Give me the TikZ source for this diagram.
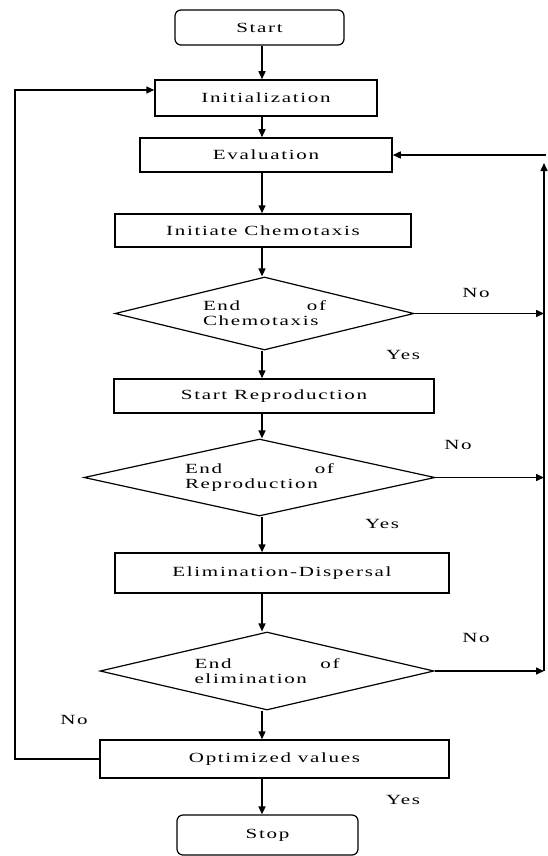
\documentclass[tikz,border=0pt]{standalone}
\usepackage{fontspec}
\setmainfont{Liberation Serif}[FakeStretch=1.5,LetterSpace=12]
\usetikzlibrary{arrows.meta,shapes.geometric}
\begin{document}
\begin{tikzpicture}[x=1pt,y=-1pt,
  every node/.style={font=\fontsize{14}{15}\selectfont},
  boxst/.style={draw,line width=1.5pt,inner sep=0pt,rectangle},
  termst/.style={draw,line width=1.2pt,inner sep=0pt,rounded corners=6pt},
  diam/.style={draw,line width=1.2pt,diamond,inner sep=0pt,aspect=4,align=left},
  arr/.style={line width=1.5pt,-{Triangle[length=8pt,width=7pt]}},
  lbl/.style={inner sep=0pt}]
\useasboundingbox (0,0) rectangle (548,856);
\fill[white] (0,0) rectangle (548,856);

\node[termst,minimum width=169pt,minimum height=35pt] (start) at (259.5,27.5) {Start};
\node[boxst,minimum width=222pt,minimum height=36pt] (init) at (266,98) {Initialization};
\node[boxst,minimum width=252pt,minimum height=34pt] (eval) at (266,155) {Evaluation};
\node[boxst,minimum width=296pt,minimum height=33pt] (chemo) at (263,230.5) {Initiate Chemotaxis};
\node[diam,minimum width=299pt,minimum height=73pt,text width=123pt] (d1) at (264.5,313.5)
  {\makebox[123pt][s]{End\hfill of}\\Chemotaxis};
\node[boxst,minimum width=320pt,minimum height=34pt] (repro) at (274,396) {Start Reproduction};
\node[diam,minimum width=351pt,minimum height=77pt,text width=149pt] (d2) at (259.5,477.5)
  {\makebox[149pt][s]{End\hfill of}\\Reproduction};
\node[boxst,minimum width=334pt,minimum height=40pt] (elim) at (282,573) {Elimination-Dispersal};
\node[diam,minimum width=334pt,minimum height=78pt,text width=145pt] (d3) at (267,671)
  {\makebox[145pt][s]{End\hfill of}\\elimination};
\node[boxst,minimum width=349pt,minimum height=38pt] (opt) at (274.5,759) {Optimized values};
\node[termst,minimum width=181pt,minimum height=40pt] (stop) at (267.5,835) {Stop};

\coordinate (cx) at (262,0);
\coordinate (rx) at (544,0);
\coordinate (lx) at (15,0);
\coordinate (rtop) at (544,163);
\coordinate (rcorner) at (546,155);
\coordinate (linit) at ([yshift=8pt]init.west);

\draw[arr] (start.south -| cx) -- (init.north -| cx);
\draw[arr] (init.south -| cx) -- (eval.north -| cx);
\draw[arr] (eval.south -| cx) -- (chemo.north -| cx);
\draw[arr] (chemo.south -| cx) -- (d1.north -| cx);
\draw[arr] (d1.south -| cx) -- (repro.north -| cx);
\draw[arr] (repro.south -| cx) -- (d2.north -| cx);
\draw[arr] (d2.south -| cx) -- (elim.north -| cx);
\draw[arr] (elim.south -| cx) -- (d3.north -| cx);
\draw[arr] (d3.south -| cx) -- (opt.north -| cx);
\draw[arr] (opt.south -| cx) -- (stop.north -| cx);

\draw[arr] (d1.east) -- (rx |- d1.east);
\draw[arr] (d2.east) -- (rx |- d2.east);
\draw[arr] (d3.east) -- (rx |- d3.east);
\draw[arr] (rx |- d3.east) -- (rtop);
\draw[arr] (rcorner) -- (eval.east |- rcorner);

\draw[arr] (opt.west) -- (lx |- opt.west) -- (lx |- linit) -- (linit);

\node[lbl] (no1) at (476,293) {No};
\node[lbl] (yes1) at (403,355) {Yes};
\node[lbl] (no2) at (458,445) {No};
\node[lbl] (yes2) at (382,524) {Yes};
\node[lbl] (no3) at (476,638) {No};
\node[lbl] (no4) at (74,720) {No};
\node[lbl] (yes3) at (403,800) {Yes};
\end{tikzpicture}
\end{document}
